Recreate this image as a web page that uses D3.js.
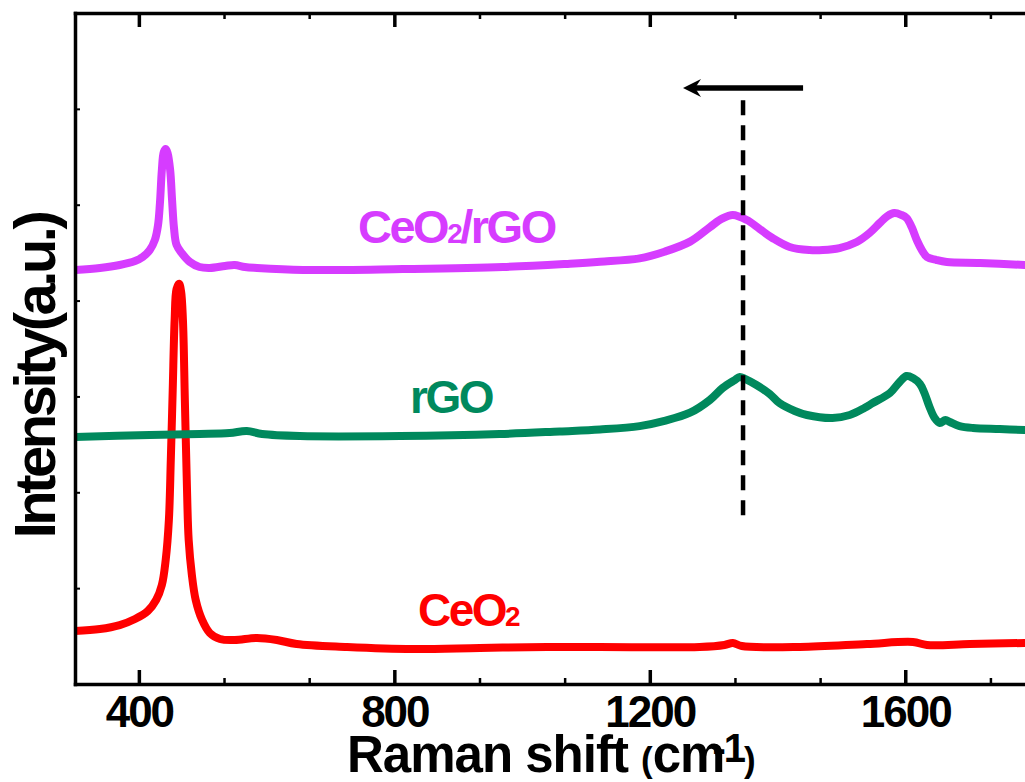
<!DOCTYPE html>
<html>
<head>
<meta charset="utf-8">
<script src="https://cdn.jsdelivr.net/npm/d3@7"></script>
<style>
  html, body { margin: 0; padding: 0; background: #fff; }
  svg { display: block; }
  text { font-family: "Liberation Sans", Arial, sans-serif; font-weight: bold; }
</style>
</head>
<body>
<svg id="chart" width="1025" height="782"></svg>
<script>
// Raman spectra: [Raman shift (cm-1), intensity (a.u., offset per trace)]
const ceo2 = [
  [300, 553], [339, 574], [370, 615], [394, 678], [414, 762], [427, 876],
  [436, 1033], [442, 1294], [447, 1711], [450, 2337], [453, 3067], [456, 3797],
  [459, 4120], [463, 4175], [466, 4100], [469, 3797], [472, 2963], [475, 2128],
  [478, 1502], [483, 1137], [489, 876], [499, 668], [511, 532], [527, 469],
  [550, 459], [585, 480], [616, 459], [647, 417], [726, 386], [829, 365],
  [934, 376], [1039, 386], [1122, 386], [1278, 386], [1317, 407], [1330, 428],
  [1344, 396], [1435, 386], [1540, 417], [1612, 438], [1634, 407], [1701, 417],
  [1787, 428]
];
const rgo = [
  [300, 2577], [417, 2598], [495, 2608], [542, 2618], [569, 2639], [593, 2608],
  [652, 2587], [809, 2587], [965, 2608], [1059, 2635], [1122, 2655], [1184, 2690],
  [1223, 2745], [1263, 2830], [1294, 2963], [1314, 3088], [1333, 3171], [1341, 3203],
  [1349, 3182], [1367, 3119], [1388, 3025], [1403, 2931], [1427, 2848], [1446, 2806],
  [1486, 2775], [1513, 2806], [1536, 2879], [1549, 2931], [1576, 3036], [1591, 3150],
  [1602, 3213], [1612, 3192], [1623, 3130], [1630, 3036], [1638, 2890], [1646, 2775],
  [1654, 2723], [1663, 2754], [1670, 2733], [1685, 2691], [1706, 2671], [1748, 2660],
  [1787, 2650]
];
const ceo2rgo = [
  [300, 4319], [339, 4340], [370, 4371], [394, 4413], [406, 4454], [417, 4527],
  [425, 4632], [430, 4788], [433, 5018], [436, 5362], [439, 5550], [442, 5581],
  [445, 5539], [449, 5362], [452, 5049], [455, 4757], [459, 4580], [467, 4496],
  [480, 4402], [495, 4350], [511, 4340], [535, 4361], [550, 4371], [566, 4350],
  [585, 4340], [657, 4319], [813, 4329], [970, 4350], [1075, 4385], [1122, 4405],
  [1184, 4440], [1223, 4510], [1263, 4615], [1294, 4765], [1313, 4855], [1330, 4893],
  [1352, 4840], [1372, 4747], [1392, 4653], [1419, 4559], [1450, 4527], [1471, 4527],
  [1497, 4548], [1524, 4611], [1544, 4705], [1560, 4809], [1572, 4882], [1583, 4913],
  [1594, 4893], [1602, 4861], [1610, 4767], [1618, 4632], [1626, 4527], [1634, 4454],
  [1649, 4423], [1665, 4402], [1717, 4392], [1787, 4371]
];

// Axis ticks
const xTicks = [400, 800, 1200, 1600];
const xMinorTicks = [533.33, 666.67, 933.33, 1066.67, 1333.33, 1466.67, 1733.33];
const yTicks = [1000, 2000, 3000, 4000, 5000, 6000];

// D-band guide (shift, from, to) and shift arrow (from, to, level)
const dBandGuide = [1346, 1760, 6100];
const shiftArrow = [1440, 1252, 6217];

const series = [
  { name: "ceo2", data: ceo2, color: "#ff0000" },
  { name: "rgo", data: rgo, color: "#00895d" },
  { name: "ceo2rgo", data: ceo2rgo, color: "#d63cff" }
];

const svg = d3.select("#chart");
const plotLeft = 75, plotTop = 13, plotRight = 1033, plotBottom = 684;

const x = d3.scaleLinear().domain([300, 1800]).range([plotLeft, plotRight]);
const y = d3.scaleLinear().domain([0, 7000]).range([plotBottom, plotTop]);

// clip traces to the frame
svg.append("defs").append("clipPath").attr("id", "plotClip")
  .append("rect").attr("x", plotLeft).attr("y", plotTop)
  .attr("width", plotRight - plotLeft).attr("height", plotBottom - plotTop);

const line = d3.line()
  .x(d => x(d[0]))
  .y(d => y(d[1]))
  .curve(d3.curveCatmullRom.alpha(0.5));

svg.append("g").attr("clip-path", "url(#plotClip)")
  .selectAll("path")
  .data(series)
  .join("path")
  .attr("d", d => line(d.data))
  .attr("fill", "none")
  .attr("stroke", d => d.color)
  .attr("stroke-width", 8)
  .attr("stroke-linejoin", "round")
  .attr("stroke-linecap", "round");

// dashed guide through the D band
svg.append("line")
  .attr("x1", x(dBandGuide[0])).attr("x2", x(dBandGuide[0]))
  .attr("y1", y(dBandGuide[1])).attr("y2", y(dBandGuide[2]))
  .attr("stroke", "#000").attr("stroke-width", 4.5)
  .attr("stroke-dasharray", "15,10");

// shift arrow
const ax0 = x(shiftArrow[0]), ax1 = x(shiftArrow[1]), ay = y(shiftArrow[2]);
svg.append("line")
  .attr("x1", ax0).attr("x2", ax1 + 10)
  .attr("y1", ay).attr("y2", ay)
  .attr("stroke", "#000").attr("stroke-width", 5.5);
svg.append("path")
  .attr("d", `M${ax1},${ay} L${ax1 + 18},${ay - 9} L${ax1 + 12},${ay} L${ax1 + 18},${ay + 9} Z`)
  .attr("fill", "#000");

// axes
function styleAxis(g) {
  g.select(".domain").attr("stroke-width", 3.5).attr("stroke-linecap", "square");
  g.selectAll(".tick line").attr("stroke-width", 3.5);
}

const xAxis = svg.append("g")
  .attr("transform", `translate(0,${plotBottom})`)
  .call(d3.axisBottom(x).tickValues(xTicks).tickSize(-14).tickSizeOuter(0)
    .tickFormat(d3.format("d")))
  .call(styleAxis);
xAxis.selectAll(".tick text")
  .attr("y", 43).attr("dy", 0)
  .attr("font-size", 44).attr("letter-spacing", -2)
  .attr("fill", "#000");

svg.append("g")
  .attr("transform", `translate(0,${plotBottom})`)
  .call(d3.axisBottom(x).tickValues(xMinorTicks).tickSize(-6).tickSizeOuter(0).tickFormat(""))
  .call(g => g.select(".domain").remove())
  .call(g => g.selectAll(".tick line").attr("stroke-width", 2.5));

svg.append("g")
  .attr("transform", `translate(0,${plotTop})`)
  .call(d3.axisTop(x).tickValues(xTicks).tickSize(-14).tickSizeOuter(0).tickFormat(""))
  .call(styleAxis);

svg.append("g")
  .attr("transform", `translate(0,${plotTop})`)
  .call(d3.axisTop(x).tickValues(xMinorTicks).tickSize(-6).tickSizeOuter(0).tickFormat(""))
  .call(g => g.select(".domain").remove())
  .call(g => g.selectAll(".tick line").attr("stroke-width", 2.5));

svg.append("g")
  .attr("transform", `translate(${plotLeft},0)`)
  .call(d3.axisLeft(y).tickValues(yTicks).tickSize(-5).tickSizeOuter(0).tickFormat(""))
  .call(styleAxis)
  .call(g => g.selectAll(".tick line").attr("stroke-width", 2));

// axis titles
const xTitle = svg.append("text")
  .attr("x", 347).attr("y", 772)
  .attr("fill", "#000").attr("letter-spacing", -1);
xTitle.append("tspan").attr("font-size", 51).text("Raman shift ");
xTitle.append("tspan").attr("font-size", 35).attr("letter-spacing", 0).text("(");
xTitle.append("tspan").attr("font-size", 51).text("cm");
xTitle.append("tspan").attr("font-size", 40).attr("dx", -12).attr("dy", -10).attr("letter-spacing", -2).text("-1");
xTitle.append("tspan").attr("font-size", 35).attr("dy", 10).attr("letter-spacing", 0).text(")");

svg.append("text")
  .attr("transform", "translate(55,376) rotate(-90)")
  .attr("text-anchor", "middle")
  .attr("font-size", 58)
  .attr("letter-spacing", -3.5)
  .attr("fill", "#000")
  .text("Intensity(a.u.)");

// trace labels
function label(xPos, yPos, color, parts) {
  const t = svg.append("text").attr("x", xPos).attr("y", yPos)
    .attr("fill", color).attr("letter-spacing", -2.5);
  parts.forEach(([s, size]) => t.append("tspan").attr("font-size", size).text(s));
}
label(358, 243, "#d63cff", [["CeO", 47], ["2", 28], ["/rGO", 47]]);
label(410, 413, "#00895d", [["rGO", 46]]);
label(418, 626, "#ff0000", [["CeO", 46], ["2", 28]]);
</script>
</body>
</html>
